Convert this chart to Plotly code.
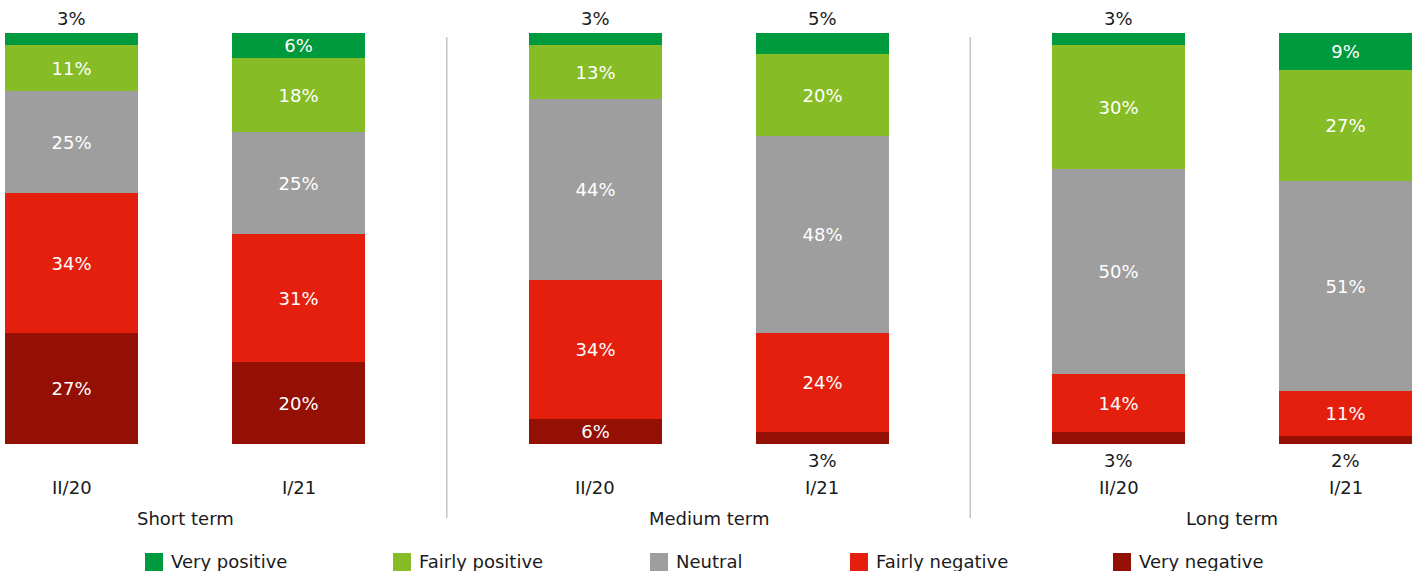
import plotly.graph_objects as go

# Survey answers, share of respondents (%) per horizon and survey round
horizons = ["Short term", "Medium term", "Long term"]
periods = ["II/20", "I/21"]
sentiments = ["Very negative", "Fairly negative", "Neutral", "Fairly positive", "Very positive"]

very_negative = [27, 20, 6, 3, 3, 2]
fairly_negative = [34, 31, 34, 24, 14, 11]
neutral = [25, 25, 44, 48, 50, 51]
fairly_positive = [11, 18, 13, 20, 30, 27]
very_positive = [3, 6, 3, 5, 3, 9]

series = [very_negative, fairly_negative, neutral, fairly_positive, very_positive]
colors = ["#940F04", "#E41F0D", "#9E9E9E", "#86BC25", "#009A3E"]

FONT = "Verdana, DejaVu Sans, sans-serif"
TXT = "#1A1A1A"
W, H = 1417, 571
TOP, BOTTOM = 33, 127          # margins -> plot area spans y 33..444 px
PLOT_H = H - TOP - BOTTOM

# horizontal placement of the bars (x axis is laid out in pixels)
FIRST, STEP, GROUP_STEP, BAR_W = 71.5, 227, 523.5, 133
xpos = [FIRST + g * GROUP_STEP + p * STEP for g in range(len(horizons)) for p in range(len(periods))]
SMALL = 6  # segments below this share get their label outside the bar

fig = go.Figure()
for name, vals, col in zip(sentiments, series, colors):
    fig.add_trace(go.Bar(
        x=xpos, y=vals, width=BAR_W, name=name,
        marker=dict(color=col, line=dict(width=0)),
        text=[f"{v}%" if v >= SMALL else "" for v in vals],
        textposition="inside", insidetextanchor="middle",
        constraintext="none",
        textfont=dict(family=FONT, size=18, color="white"),
        showlegend=False,
    ))

annotations = []
# small segments at the top / bottom of a stack: label above / below
for i, x in enumerate(xpos):
    top_v = very_positive[i]
    if top_v < SMALL:
        total = sum(s[i] for s in series)
        annotations.append(dict(x=x, y=total, xref="x", yref="y", text=f"{top_v}%",
                                showarrow=False, yanchor="bottom", yshift=2,
                                font=dict(family=FONT, size=18, color=TXT)))
    bot_v = very_negative[i]
    if bot_v < SMALL:
        annotations.append(dict(x=x, y=0, xref="x", yref="y", text=f"{bot_v}%",
                                showarrow=False, yanchor="middle", yshift=-(460 - 444),
                                font=dict(family=FONT, size=18, color=TXT)))

# period labels under each bar
for i, x in enumerate(xpos):
    annotations.append(dict(x=x, y=0, xref="x", yref="paper", text=periods[i % len(periods)],
                            showarrow=False, yanchor="middle", yshift=-(487 - 444),
                            font=dict(family=FONT, size=18, color=TXT)))

# horizon labels centred under each pair of bars
for g, h in enumerate(horizons):
    cx = (xpos[2 * g] + xpos[2 * g + 1]) / 2
    annotations.append(dict(x=cx, y=0, xref="x", yref="paper", text=h,
                            showarrow=False, yanchor="middle", yshift=-(518 - 444),
                            font=dict(family=FONT, size=18, color=TXT)))

shapes = []
# thin separators between horizons
for g in range(len(horizons) - 1):
    sx = (xpos[2 * g + 1] + BAR_W / 2 + xpos[2 * g + 2] - BAR_W / 2) / 2
    shapes.append(dict(type="line", xref="x", yref="paper", x0=sx, x1=sx,
                       y0=(444 - 518) / PLOT_H, y1=(444 - 37) / PLOT_H,
                       line=dict(color="#C4C4C4", width=1.5)))

# legend row: swatch + label, top to bottom of the list shown left to right
legend_order = ["Very positive", "Fairly positive", "Neutral", "Fairly negative", "Very negative"]
legend_x = [145, 393, 650, 850, 1113]
SW = 18
for name, lx in zip(legend_order, legend_x):
    col = colors[sentiments.index(name)]
    shapes.append(dict(type="rect", xref="x", yref="paper", x0=lx, x1=lx + SW,
                       y0=(444 - 571) / PLOT_H, y1=(444 - 553) / PLOT_H,
                       fillcolor=col, line=dict(width=0)))
    annotations.append(dict(x=lx + SW + 6, y=0, xref="x", yref="paper", text=name,
                            showarrow=False, xanchor="left", yanchor="middle",
                            yshift=-(561 - 444),
                            font=dict(family=FONT, size=18, color=TXT)))

fig.update_layout(
    width=W, height=H,
    margin=dict(l=0, r=0, t=TOP, b=BOTTOM, pad=0),
    barmode="stack", bargap=0,
    plot_bgcolor="white", paper_bgcolor="white",
    font=dict(family=FONT, size=18, color=TXT),
    xaxis=dict(range=[0, W], visible=False, fixedrange=True),
    yaxis=dict(range=[0, 100], visible=False, fixedrange=True),
    annotations=annotations, shapes=shapes,
    uniformtext=dict(mode=False),
)

fig.write_html("out.html", config=dict(displayModeBar=False))
